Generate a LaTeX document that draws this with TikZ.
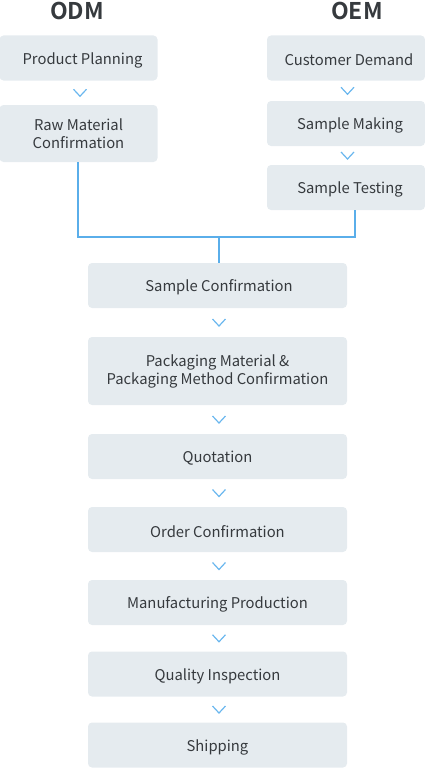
\documentclass[tikz,border=0pt]{standalone}
\usepackage{fontspec}
\setmainfont{Noto Sans CJK SC}[BoldFont={Noto Sans CJK SC Bold}]
\usetikzlibrary{calc}
\definecolor{boxfill}{HTML}{E5EBEF}
\definecolor{txt}{HTML}{363A3E}
\definecolor{lineblue}{HTML}{5AAEEA}
\definecolor{chevblue}{HTML}{6AB7EE}
\newcommand{\oneline}[1]{\raisebox{-2pt}[\height][\depth]{#1}}
\tikzset{
  box/.style={fill=boxfill, rounded corners=4pt, text=txt, font=\fontsize{14.8}{18}\selectfont, align=center, inner sep=0pt},
  topbox/.style={box, minimum width=158pt, minimum height=45pt},
  mainbox/.style={box, minimum width=259pt, minimum height=45pt},
  title/.style={text=txt, font=\fontsize{23}{26}\selectfont\bfseries, inner sep=0pt, anchor=base},
  conn/.style={draw=lineblue, line width=2pt, line join=miter},
  chev/.style={draw=chevblue, line width=1.2pt}
}
\begin{document}
\begin{tikzpicture}[x=1pt,y=-1pt]
\useasboundingbox (0,0) rectangle (425,768);
\node[title] (odm) at (77,19.5) {ODM};
\node[title] (oem) at (357,19.5) {OEM};
% ODM column
\node[topbox] (pp) at (78.5,58) {\oneline{\hspace*{8pt}Product Planning}};
\node[topbox, minimum height=57pt] (rm) at (78.5,133.5) {Raw Material\\Confirmation};
% OEM column
\node[topbox] (cd) at (346,58) {\oneline{\hspace*{6pt}Customer Demand}};
\node[topbox] (sm) at (346,123.5) {\oneline{\hspace*{8pt}Sample Making}};
\node[topbox] (st) at (346,187.5) {\oneline{\hspace*{8pt}Sample Testing}};
% main column
\node[mainbox] (sc) at (217.5,285.5) {\oneline{\hspace*{3pt}Sample Confirmation}};
\node[mainbox, minimum height=68pt] (pk) at (217.5,371) {Packaging Material \&\\Packaging Method Confirmation};
\node[mainbox] (qt) at (217.5,456.5) {\oneline{Quotation}};
\node[mainbox] (oc) at (217.5,529.5) {\oneline{Order Confirmation}};
\node[mainbox] (mp) at (217.5,602.5) {\oneline{Manufacturing Production}};
\node[mainbox] (qi) at (217.5,674) {\oneline{Quality Inspection}};
\node[mainbox] (sh) at (217.5,745) {\oneline{Shipping}};
% connectors
\coordinate (jl) at ($(rm.south)+(-1,0)$);
\coordinate (jr) at ($(st.south)+(9,0)$);
\coordinate (j) at (219,237);
\draw[conn] (jl) |- (j) -| (jr);
\draw[conn] (j) -- (j |- sc.north);
% chevrons
\foreach \a/\b in {pp/rm, cd/sm, sm/st, sc/pk, pk/qt, qt/oc, oc/mp, mp/qi, qi/sh}{
  \draw[chev] ($(\a.south)!0.5!(\b.north)+(1.5,0)$) ++(-6.5,-3.5) -- ++(6.5,7) -- ++(6.5,-7);
}
\end{tikzpicture}
\end{document}
